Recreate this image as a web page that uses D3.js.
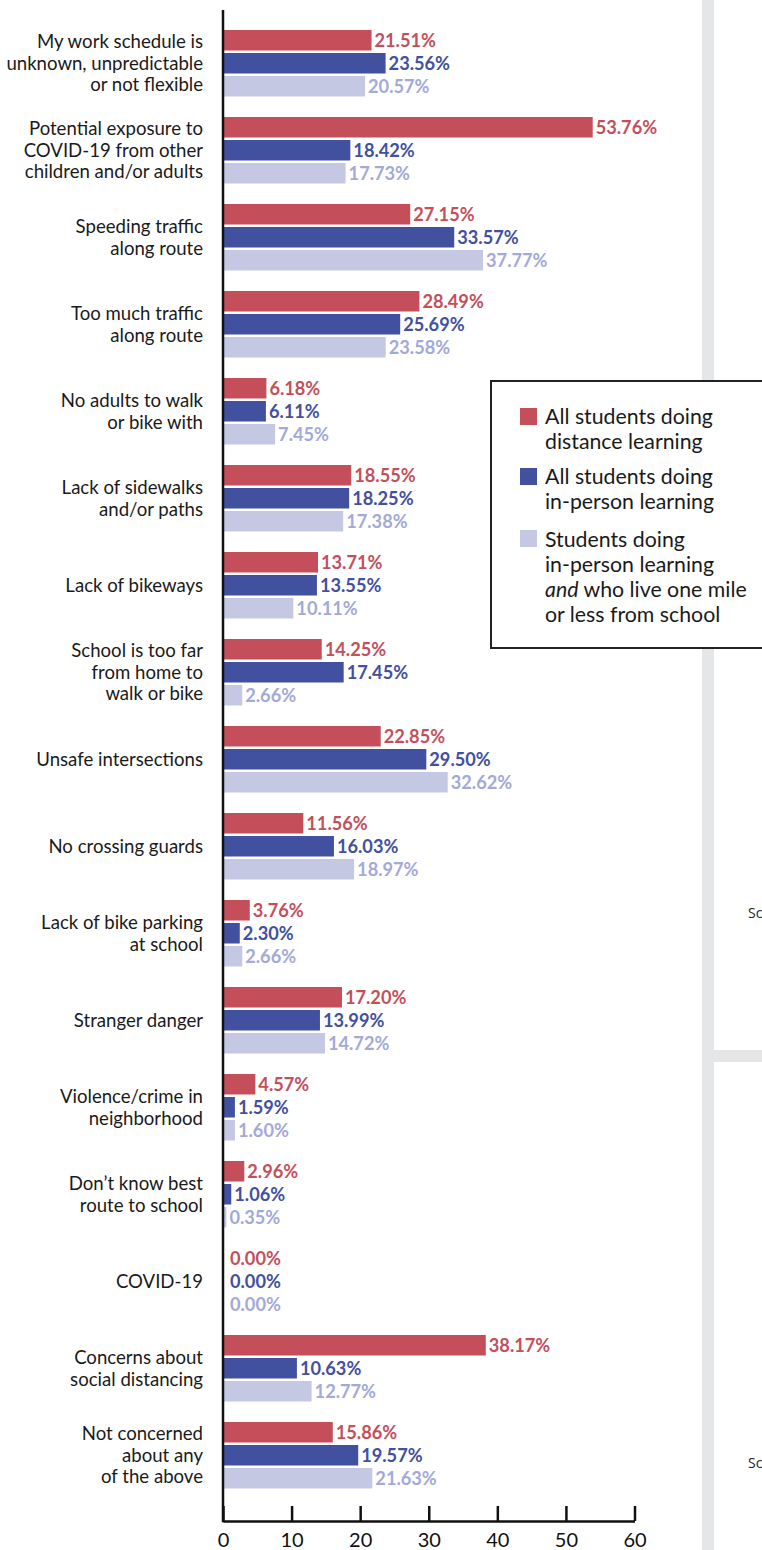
<!DOCTYPE html>
<html><head><meta charset="utf-8">
<script src="https://cdn.jsdelivr.net/npm/d3@7/dist/d3.min.js"></script>
<style>
html,body{margin:0;padding:0;background:#fff;}
svg{display:block;font-family:Lato,"Open Sans",sans-serif;}
</style></head>
<body>
<script>
const categories = [
  "My work schedule is\nunknown, unpredictable\nor not flexible",
  "Potential exposure to\nCOVID-19 from other\nchildren and/or adults",
  "Speeding traffic\nalong route",
  "Too much traffic\nalong route",
  "No adults to walk\nor bike with",
  "Lack of sidewalks\nand/or paths",
  "Lack of bikeways",
  "School is too far\nfrom home to\nwalk or bike",
  "Unsafe intersections",
  "No crossing guards",
  "Lack of bike parking\nat school",
  "Stranger danger",
  "Violence/crime in\nneighborhood",
  "Don’t know best\nroute to school",
  "COVID-19",
  "Concerns about\nsocial distancing",
  "Not concerned\nabout any\nof the above"
];
const seriesNames = ["distance", "inperson", "near"];
const distance = [21.51, 53.76, 27.15, 28.49, 6.18, 18.55, 13.71, 14.25, 22.85, 11.56, 3.76, 17.20, 4.57, 2.96, 0.00, 38.17, 15.86];
const inperson = [23.56, 18.42, 33.57, 25.69, 6.11, 18.25, 13.55, 17.45, 29.50, 16.03, 2.30, 13.99, 1.59, 1.06, 0.00, 10.63, 19.57];
const near     = [20.57, 17.73, 37.77, 23.58, 7.45, 17.38, 10.11, 2.66, 32.62, 18.97, 2.66, 14.72, 1.60, 0.35, 0.00, 12.77, 21.63];
const xTicks = [0, 10, 20, 30, 40, 50, 60];
const legendLabels = [
  ["All students doing", "distance learning"],
  ["All students doing", "in-person learning"],
  ["Students doing", "in-person learning", "<i>and</i> who live one mile", "or less from school"]
];

const barColors = {distance: "#C44F5B", inperson: "#4250A0", near: "#C5C8E3"};
const textColors = {distance: "#C44F5B", inperson: "#4250A0", near: "#A3A9D8"};
const seriesData = {distance, inperson, near};

const W = 762, H = 1550;
const svg = d3.select("body").append("svg").attr("width", W).attr("height", H);

// background panel pieces on the right
svg.append("rect").attr("x", 702).attr("y", 0).attr("width", 12).attr("height", H).attr("fill", "#E5E6E8");
svg.append("rect").attr("x", 714).attr("y", 1050).attr("width", 48).attr("height", 12).attr("fill", "#E5E6E8");
[918, 1468].forEach(y => {
  svg.append("text").attr("x", 748).attr("y", y).attr("font-size", 14).attr("fill", "#222").attr("font-family", "'Open Sans',sans-serif").text("Sc");
});

const x = d3.scaleLinear().domain([0, 60]).range([223, 634.5]);
const y = d3.scaleBand().domain(categories).range([19.75, 19.75 + 87 * categories.length]).paddingInner(0).paddingOuter(0);
const yInner = d3.scaleBand().domain(seriesNames).range([10.25, 76.75]).paddingInner(0.1087).paddingOuter(0);
const axisY = 1521;

// bars
const groups = svg.append("g").selectAll("g").data(categories).join("g")
  .attr("transform", d => `translate(0,${y(d)})`);

seriesNames.forEach(s => {
  groups.append("rect")
    .attr("x", x(0) + 1)
    .attr("y", yInner(s))
    .attr("width", (d, i) => Math.max(0, x(seriesData[s][i]) - x(0)))
    .attr("height", yInner.bandwidth())
    .attr("fill", barColors[s]);
  groups.append("text")
    .attr("x", (d, i) => x(seriesData[s][i]) + (seriesData[s][i] === 0 ? 7 : 4))
    .attr("y", yInner(s) + yInner.bandwidth() / 2)
    .attr("dy", "0.36em")
    .attr("font-size", 18.2)
    .attr("font-weight", 700)
    .attr("fill", textColors[s])
    .text((d, i) => seriesData[s][i].toFixed(2) + "%");
});

// category labels
const lineH = 21.7;
groups.append("text")
  .attr("text-anchor", "end")
  .attr("font-size", 18.6)
  .attr("fill", "#1a1a1a")
  .each(function(d) {
    const lines = d.split("\n");
    const t = d3.select(this);
    const cy = 43.5;
    lines.forEach((ln, k) => {
      t.append("tspan").attr("x", 203)
        .attr("y", cy + (k - (lines.length - 1) / 2) * lineH)
        .attr("dy", "0.35em").text(ln);
    });
  });

// vertical axis line
svg.append("line").attr("x1", x(0)).attr("x2", x(0)).attr("y1", 10).attr("y2", axisY + 1.25)
  .attr("stroke", "#111").attr("stroke-width", 2.5);

// x axis
const xAxis = d3.axisBottom(x).tickValues(xTicks).tickSizeInner(-15).tickSizeOuter(0).tickPadding(12).tickFormat(d3.format("d"));
const gx = svg.append("g").attr("transform", `translate(0,${axisY})`).call(xAxis);
gx.select(".domain").attr("stroke", "#111").attr("stroke-width", 2.5);
gx.selectAll(".tick line").attr("stroke", "#111").attr("stroke-width", 2.5);
gx.selectAll(".tick text").attr("font-size", 20).attr("fill", "#111").attr("font-family", "Lato,sans-serif");

// legend
const lg = svg.append("g");
lg.append("rect").attr("x", 491).attr("y", 381).attr("width", 300).attr("height", 267)
  .attr("fill", "#fff").attr("stroke", "#222").attr("stroke-width", 2);
const legTops = [408, 468, 530];
const legBase = [424, 484, 547];
seriesNames.forEach((s, i) => {
  lg.append("rect").attr("x", 520).attr("y", legTops[i]).attr("width", 17).attr("height", 17).attr("fill", barColors[s]);
  const t = lg.append("text").attr("font-size", 21.3).attr("fill", "#1a1a1a");
  legendLabels[i].forEach((ln, k) => {
    const ts = t.append("tspan").attr("x", 545).attr("y", legBase[i] + k * 25);
    if (ln.startsWith("<i>")) {
      const m = ln.match(/^<i>(.*?)<\/i>(.*)$/);
      ts.append("tspan").attr("font-style", "italic").text(m[1]);
      ts.append("tspan").text(m[2]);
    } else ts.text(ln);
  });
});
</script>
</body></html>
